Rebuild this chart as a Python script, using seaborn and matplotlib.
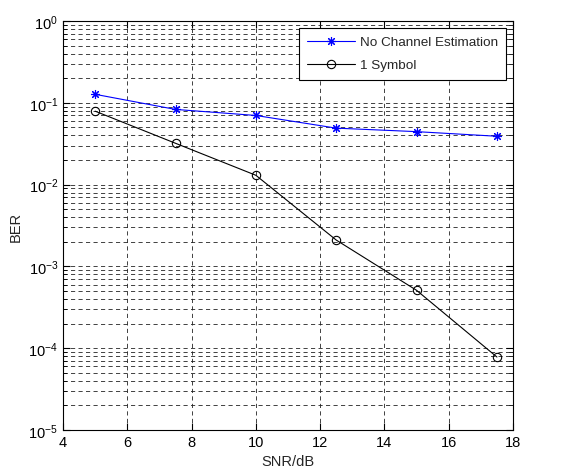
import matplotlib
matplotlib.use("Agg")
import matplotlib.pyplot as plt
import seaborn as sns
import numpy as np
import pandas as pd
from matplotlib.ticker import LogLocator, NullFormatter, FixedLocator

snr = [5, 7.5, 10, 12.5, 15, 17.5]
ber_no_est = [0.127, 0.083, 0.070, 0.049, 0.0444, 0.039]
ber_1sym = [0.079, 0.032, 0.013, 0.0021, 5.1e-4, 7.8e-5]
series_names = ["No Channel Estimation", "1 Symbol"]
x_ticks = [4, 6, 8, 10, 12, 14, 16, 18]
y_decades = [-5, -4, -3, -2, -1, 0]

sns.set_style("white")
plt.rcParams['font.family'] = ['Liberation Sans', 'DejaVu Sans']
plt.rcParams['mathtext.fontset'] = 'custom'
plt.rcParams['mathtext.rm'] = 'Liberation Sans'
plt.rcParams['mathtext.it'] = 'Liberation Sans'
plt.rcParams['mathtext.bf'] = 'Liberation Sans'

fig = plt.figure(figsize=(5.62, 4.77), dpi=100)
ax = fig.add_axes([63/562, 1 - 431/477, (513-63)/562, (431-22)/477])

df1 = pd.DataFrame({"SNR": snr, "BER": ber_no_est})
df2 = pd.DataFrame({"SNR": snr, "BER": ber_1sym})

sns.lineplot(data=df1, x="SNR", y="BER", ax=ax, color="blue", lw=0.8,
             marker=(8, 2, 0), markersize=6.5, markeredgecolor="blue",
             markeredgewidth=0.8, label=series_names[0])
sns.lineplot(data=df2, x="SNR", y="BER", ax=ax, color="black", lw=0.8,
             marker="o", markersize=6, markerfacecolor="none",
             markeredgecolor="black", markeredgewidth=0.8, label=series_names[1])

ax.set_yscale("log")
ax.set_xlim(4, 18)
ax.set_ylim(1e-5, 1)
ax.xaxis.set_major_locator(FixedLocator(x_ticks))
ax.set_xticklabels([str(t) for t in x_ticks])
ax.yaxis.set_major_locator(FixedLocator([10.0**d for d in y_decades]))
ax.set_yticklabels([r"$10^{%d}$" % d for d in y_decades])
ax.yaxis.set_minor_locator(LogLocator(base=10, subs=np.arange(2, 10), numticks=20))
ax.yaxis.set_minor_formatter(NullFormatter())

grid_kw = dict(color="#222222", lw=0.6, ls=(0, (5, 4)))
ax.grid(True, which="major", axis="both", **grid_kw)
ax.grid(True, which="minor", axis="y", **grid_kw)

ax.tick_params(which="both", direction="in", top=True, right=True,
               left=True, bottom=True, labelsize=10.5, colors="black")
ax.tick_params(which="major", length=5, width=0.8)
ax.tick_params(which="minor", length=3, width=0.6)
for s in ax.spines.values():
    s.set_color("black")
    s.set_linewidth(0.8)

ax.set_xlabel("SNR/dB", fontsize=10.5)
ax.set_ylabel("BER", fontsize=10.5)

leg = ax.legend(loc="upper right", fontsize=9.7, frameon=True, fancybox=False,
                edgecolor="black", framealpha=1, borderaxespad=0.5,
                handlelength=3.6, handletextpad=0.35, borderpad=0.6,
                labelspacing=0.8)
leg.get_frame().set_linewidth(0.8)

fig.savefig("out.png", dpi=100)
